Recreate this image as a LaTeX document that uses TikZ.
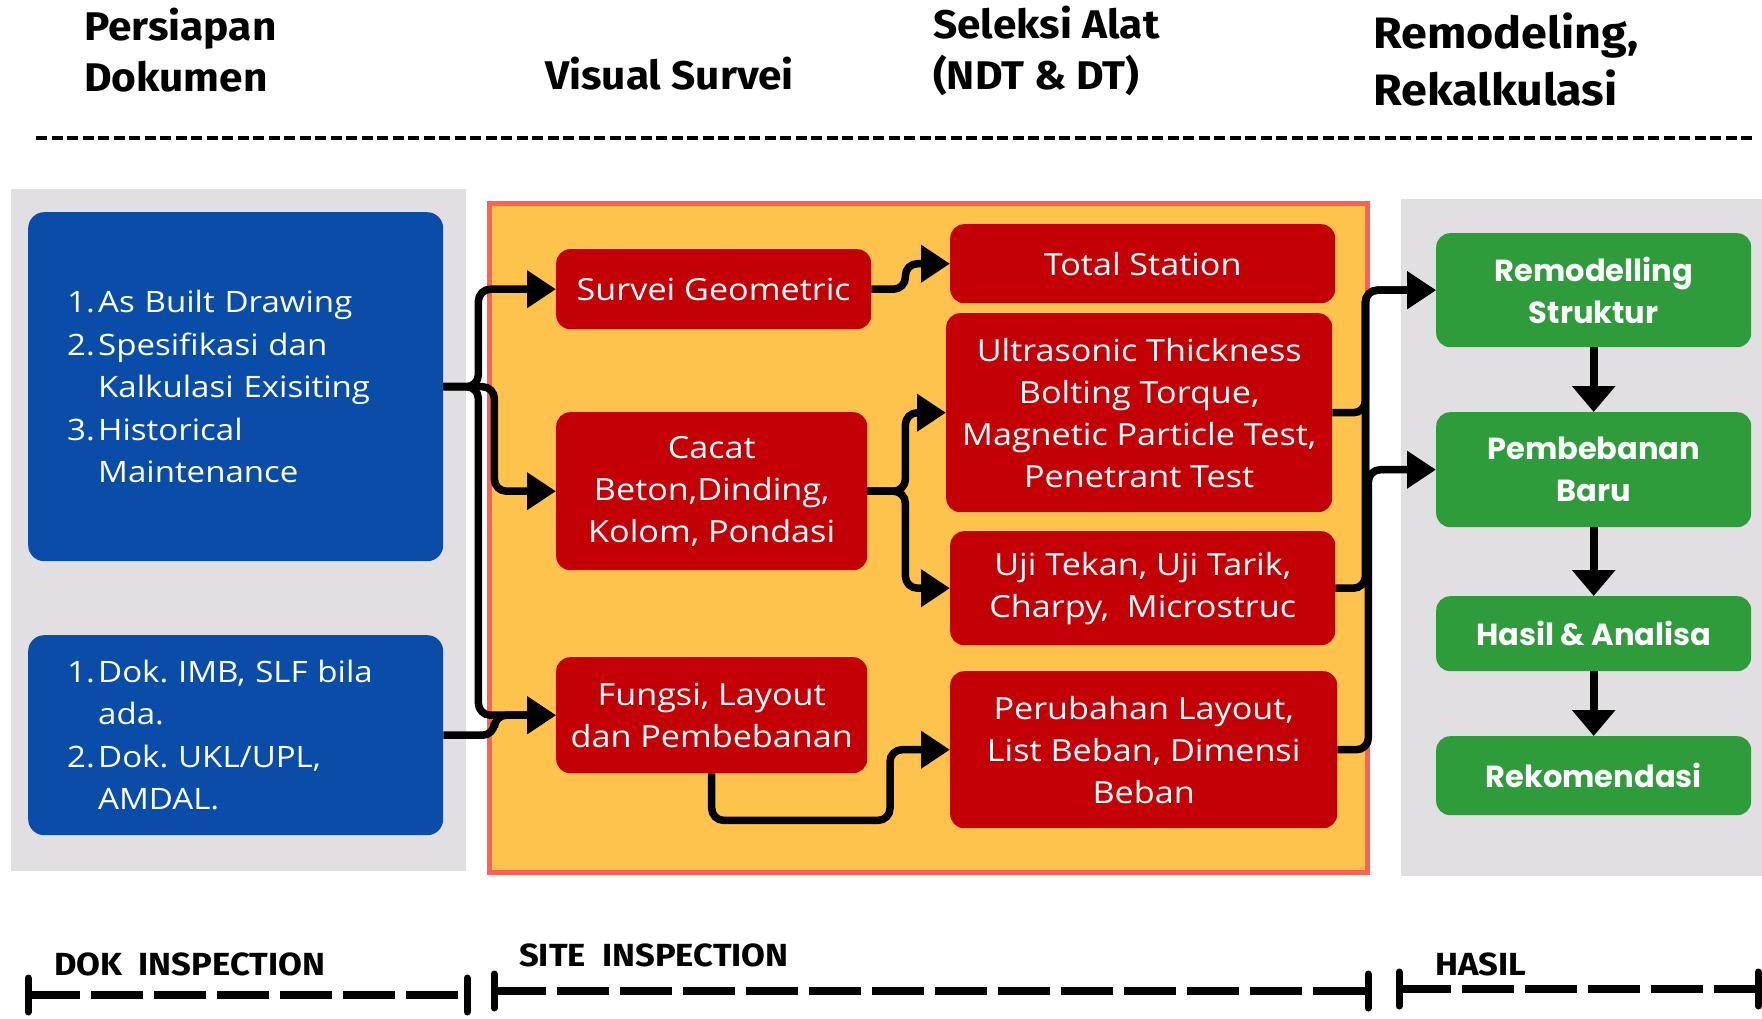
\documentclass[tikz,border=0pt]{standalone}
\usepackage{fontspec}
\setmainfont{Open Sans}[FakeStretch=1.12]
\newfontfamily\headfont{Fira Sans}[FakeStretch=1.06]
\newfontfamily\footfont{Fira Sans}[FakeStretch=1.08]
\newfontfamily\greenfont{Poppins}
\usetikzlibrary{arrows.meta}
\definecolor{bluec}{HTML}{0A4DA8}
\definecolor{redc}{HTML}{C30005}
\definecolor{orangec}{HTML}{FDC34C}
\definecolor{borderc}{HTML}{FF5F5B}
\definecolor{grayc}{HTML}{E2DFE2}
\definecolor{greenc}{HTML}{2E9C3B}
\newcommand{\numi}[1]{\makebox[31pt][l]{#1}}
\newcommand{\indi}{\hspace*{31pt}}
\begin{document}
\begin{tikzpicture}[x=1pt,y=-1pt,
  head/.style={anchor=west, inner sep=0pt, align=left, font=\headfont\bfseries\fontsize{40}{51}\selectfont},
  foot/.style={anchor=west, inner sep=0pt, font=\footfont\bfseries\fontsize{32}{36}\selectfont},
  bluebox/.style={fill=bluec, rounded corners=16pt, text=white, align=left, font=\fontsize{29.5}{42.5}\selectfont, inner xsep=39pt, inner ysep=0pt, text width=337pt, anchor=north west},
  redbox/.style={fill=redc, rounded corners=14pt, text=white, align=center, font=\fontsize{30.5}{42}\selectfont, inner sep=0pt, anchor=north west},
  greenbox/.style={fill=greenc, rounded corners=14pt, text=white, align=center, font=\greenfont\bfseries\fontsize{30.5}{42}\selectfont, inner sep=0pt, anchor=north west, minimum width=315pt},
  conn/.style={line width=7.5pt, rounded corners=12pt, -{Triangle[length=29pt,width=36pt]}},
  down/.style={line width=8pt, -{Triangle[length=26pt,width=42pt]}},
  bar/.style={line width=8pt, dash pattern=on 52pt off 11pt},
  capline/.style={line width=7pt, line cap=round}
]
\useasboundingbox (0,0) rectangle (1762,1019);
\fill[white] (0,0) rectangle (1762,1019);

% headers
\node[head] (h1) at (84,50.5) {Persiapan\\Dokumen};
\node[head] (h2) at (545,74) {Visual Survei};
\node[head] (h3) at (933,50.5) {Seleksi Alat\\(NDT \& DT)};
\node[head, font=\headfont\bfseries\fontsize{44}{57}\selectfont] (h4) at (1373,59.5) {Remodeling,\\Rekalkulasi};
\coordinate (tl) at (36,138);
\coordinate (tr) at (1753,138);
\draw[line width=3.2pt, dash pattern=on 11pt off 4.5pt] (tl) -- (tr);

% panels
\fill[grayc] (11,189) rectangle (466,871);
\fill[orangec, draw=borderc, line width=5pt] (489.5,203.5) rectangle (1367.5,872);
\fill[grayc] (1401,199) rectangle (1762,876);

% blue boxes
\node[bluebox, minimum height=349pt] (b1) at (28,212) {\numi{1.}As Built Drawing\\\numi{2.}Spesifikasi dan\\\indi Kalkulasi Exisiting\\\numi{3.}Historical\\\indi Maintenance};
\node[bluebox, minimum height=200pt] (b2) at (28,635) {\numi{1.}Dok.\ IMB, SLF bila\\\indi ada.\\\numi{2.}Dok.\ UKL/UPL,\\\indi AMDAL.};

% red boxes
\node[redbox, minimum width=315pt, minimum height=80pt] (sg) at (556,249) {Survei Geometric};
\node[redbox, minimum width=311pt, minimum height=158pt] (cc) at (556,412) {Cacat\\Beton,Dinding,\\Kolom, Pondasi};
\node[redbox, minimum width=311pt, minimum height=116pt] (fu) at (556,657) {Fungsi, Layout\\dan Pembebanan};
\node[redbox, minimum width=385pt, minimum height=79pt] (ts) at (950,224) {Total Station};
\node[redbox, minimum width=386pt, minimum height=199pt] (us) at (946,313) {Ultrasonic Thickness\\Bolting Torque,\\Magnetic Particle Test,\\Penetrant Test};
\node[redbox, minimum width=385pt, minimum height=114pt] (uj) at (950,531) {Uji Tekan, Uji Tarik,\\Charpy,\ \ Microstruc};
\node[redbox, minimum width=387pt, minimum height=157pt] (pb) at (950,671) {Perubahan Layout,\\List Beban, Dimensi\\Beban};

% green boxes
\node[greenbox, minimum height=114pt] (rm) at (1436,233) {Remodelling\\Struktur};
\node[greenbox, minimum height=115pt] (pm) at (1436,412) {Pembebanan\\Baru};
\node[greenbox, minimum height=75pt] (ha) at (1436,596) {Hasil \& Analisa};
\node[greenbox, minimum height=79pt] (rk) at (1436,736) {Rekomendasi};

% connectors left
\draw[conn] (b1.east) -- ++(35,0) |- (sg.west);
\draw[conn] (b1.east) -- ++(35,0) |- (fu.west);
\draw[conn] (b1.east) -- ++(51,0) |- (cc.west);
\draw[conn] (b2.east) -- ++(51,0) |- (fu.west);

% connectors middle
\draw[conn] (sg.east) -- ++(34,0) |- (ts.west);
\draw[conn] (cc.east) -- ++(38,0) |- (us.west);
\draw[conn] (cc.east) -- ++(38,0) |- (uj.west);
\draw[conn] (fu.south) -- ++(0,47) -| ([xshift=-60pt]pb.west) -- (pb.west);

% connectors right
\draw[conn] (uj.east) -- ++(30,0) |- (rm.west);
\draw[conn] (us.east) -- ++(33,0) |- (rm.west);
\draw[conn] (pb.east) -- ++(31,0) |- (pm.west);

% green chain
\draw[down] (rm.south) -- (pm.north);
\draw[down] (pm.south) -- (ha.north);
\draw[down] (ha.south) -- (rk.north);

% footer
\node[foot] (f1) at (54,964) {DOK\ \ INSPECTION};
\node[foot] (f2) at (519,955) {SITE\ \ INSPECTION};
\node[foot] (f3) at (1435,964) {HASIL};
\coordinate (a1) at (28,995);
\coordinate (a2) at (467,995);
\coordinate (c1) at (494,991);
\coordinate (c2) at (1368,991);
\coordinate (e1) at (1399,989);
\coordinate (e2) at (1758,989);
\draw[bar] (a1) -- (a2);
\draw[bar] (c1) -- (c2);
\draw[bar] (e1) -- (e2);
\foreach \p in {a1,a2,c1,c2,e1,e2}{
  \draw[capline] ([yshift=17pt]\p) -- ([yshift=-17pt]\p);
}
\end{tikzpicture}
\end{document}
